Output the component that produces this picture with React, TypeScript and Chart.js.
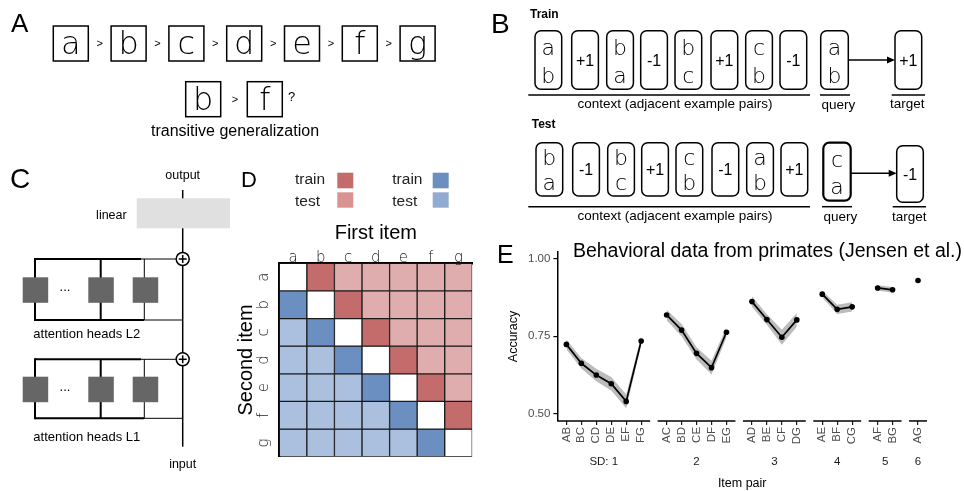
import React, { useEffect, useRef } from 'react';
import { Chart, registerables } from 'chart.js';
Chart.register(...registerables);

// ---------- Panel E data (behavioral data from primates) ----------
const pairs = ['AB', 'BC', 'CD', 'DE', 'EF', 'FG', 'AC', 'BD', 'CE', 'DF', 'EG', 'AD', 'BE', 'CF', 'DG', 'AE', 'BF', 'CG', 'AF', 'BG', 'AG'];
const pairDistance = [1, 1, 1, 1, 1, 1, 2, 2, 2, 2, 2, 3, 3, 3, 3, 4, 4, 4, 5, 5, 6];
const accuracy = [0.724, 0.663, 0.625, 0.597, 0.540, 0.735, 0.819, 0.770, 0.695, 0.649, 0.763, 0.862, 0.804, 0.747, 0.803, 0.886, 0.837, 0.845, 0.906, 0.900, 0.930];
const ciLower = [0.708, 0.646, 0.605, 0.575, 0.518, 0.720, 0.802, 0.750, 0.675, 0.627, 0.746, 0.845, 0.787, 0.723, 0.781, 0.875, 0.822, 0.830, 0.897, 0.891, 0.930];
const ciUpper = [0.740, 0.680, 0.645, 0.619, 0.562, 0.750, 0.836, 0.790, 0.715, 0.671, 0.780, 0.879, 0.821, 0.771, 0.825, 0.897, 0.852, 0.860, 0.915, 0.909, 0.930];
const distanceLabels = ['SD: 1', '2', '3', '4', '5', '6'];
const accuracyTicks = [0.5, 0.75, 1.0];
const titleE = 'Behavioral data from primates (Jensen et al.)';

// ---------- Panel D data (train/test matrix) ----------
const items = ['a', 'b', 'c', 'd', 'e', 'f', 'g'];
// W = diagonal, R = train (first>second), r = test, B = train (reverse), b = test (reverse)
const cellRows = [
  'WRrrrrr',
  'BWRrrrr',
  'bBWRrrr',
  'bbBWRrr',
  'bbbBWRr',
  'bbbbBWR',
  'bbbbbBW',
];

// ---------- Panel A / B content ----------
const sequence = ['a', 'b', 'c', 'd', 'e', 'f', 'g'];
const trainContext = [['a', 'b'], ['+1'], ['b', 'a'], ['-1'], ['b', 'c'], ['+1'], ['c', 'b'], ['-1']];
const testContext = [['b', 'a'], ['-1'], ['b', 'c'], ['+1'], ['c', 'b'], ['-1'], ['a', 'b'], ['+1']];

const SANS = "'Liberation Sans', Arial, Helvetica, sans-serif";
const HAND = "'DejaVu Sans ExtraLight', 'DejaVu Sans', 'Noto Sans', sans-serif";

const colors = {
  trainRed: '#c46b6b',
  testRedLegend: '#d99393',
  testRedCell: '#e0adaf',
  trainBlue: '#6b8fc0',
  testBlueLegend: '#92abd0',
  testBlueCell: '#aac0de',
};
const cellColor: Record<string, string> = {
  W: '#ffffff',
  R: colors.trainRed,
  r: colors.testRedCell,
  B: colors.trainBlue,
  b: colors.testBlueCell,
};

// facet layout in x units (ggplot-like discrete expansion)
const EXPAND = 0.6;
const GAP = 0.5;
function buildFacets() {
  const groups: { label: string; idx: number[]; start: number; end: number; pos: number[] }[] = [];
  let start = 0;
  distanceLabels.forEach((lab, gi) => {
    const idx = pairDistance.map((d, i) => (d === gi + 1 ? i : -1)).filter((i) => i >= 0);
    const n = idx.length;
    const end = start + (n - 1) + 2 * EXPAND;
    groups.push({ label: lab, idx, start, end, pos: idx.map((_, k) => start + EXPAND + k) });
    start = end + GAP;
  });
  return { groups, max: start - GAP };
}

function PanelE() {
  const ref = useRef<HTMLCanvasElement>(null);
  useEffect(() => {
    const { groups, max } = buildFacets();
    const xPos: number[] = [];
    const xLab: string[] = [];
    groups.forEach((g) => g.idx.forEach((i, k) => { xPos.push(g.pos[k]); xLab.push(pairs[i]); }));
    const datasets: any[] = [];
    groups.forEach((g) => {
      if (g.idx.length > 1) {
        const lowerIndex = datasets.length;
        datasets.push({
          data: g.idx.map((i, k) => ({ x: g.pos[k], y: ciLower[i] })),
          borderWidth: 0, pointRadius: 0, fill: false, order: 3,
        });
        datasets.push({
          data: g.idx.map((i, k) => ({ x: g.pos[k], y: ciUpper[i] })),
          borderWidth: 0, pointRadius: 0, fill: lowerIndex, backgroundColor: 'rgb(188,188,188)', order: 2,
        });
      }
      datasets.push({
        data: g.idx.map((i, k) => ({ x: g.pos[k], y: accuracy[i] })),
        borderColor: '#000', borderWidth: 1.7, pointRadius: 2.8, pointBackgroundColor: '#000',
        pointBorderWidth: 0, fill: false, order: 1, tension: 0,
      });
    });
    const facetPlugin = {
      id: 'facetAxis',
      afterDraw(chart: any) {
        const { ctx, chartArea } = chart;
        const x = chart.scales.x;
        ctx.save();
        ctx.strokeStyle = '#000';
        ctx.lineWidth = 1.5;
        groups.forEach((g) => {
          ctx.beginPath();
          ctx.moveTo(x.getPixelForValue(g.start), chartArea.bottom);
          ctx.lineTo(x.getPixelForValue(g.end), chartArea.bottom);
          ctx.stroke();
        });
        ctx.font = `19.5px ${SANS}`;
        ctx.fillStyle = '#000';
        ctx.textAlign = 'right';
        ctx.textBaseline = 'alphabetic';
        ctx.fillText(titleE, chart.width - 2, 28.5);
        ctx.restore();
      },
    };
    const chart = new Chart(ref.current as HTMLCanvasElement, {
      type: 'line',
      data: { datasets },
      options: {
        animation: false,
        responsive: false,
        events: [],
        layout: { padding: { left: 4, right: 37, top: 24, bottom: 0 } },
        plugins: { legend: { display: false }, tooltip: { enabled: false }, title: { display: false } },
        scales: {
          x: {
            type: 'linear', position: 'bottom', min: 0, max, weight: 0,
            afterBuildTicks: (axis: any) => { axis.ticks = xPos.map((v) => ({ value: v })); },
            ticks: {
              autoSkip: false, minRotation: 90, maxRotation: 90, color: '#4d4d4d', padding: 2,
              font: { size: 11.5, family: SANS },
              callback: (_v: any, i: number) => xLab[i],
            },
            grid: { drawOnChartArea: false, drawTicks: true, tickLength: 4, color: '#1a1a1a', lineWidth: 1.2 },
            border: { display: false },
          },
          x2: {
            type: 'linear', position: 'bottom', min: 0, max, weight: 1,
            afterBuildTicks: (axis: any) => { axis.ticks = groups.map((g) => ({ value: (g.start + g.end) / 2 })); },
            ticks: {
              autoSkip: false, minRotation: 0, maxRotation: 0, color: '#1a1a1a', padding: 0.5,
              font: { size: 11.5, family: SANS },
              callback: (_v: any, i: number) => groups[i].label,
            },
            grid: { display: false },
            border: { display: false },
            title: { display: true, text: 'Item pair', color: '#000', font: { size: 12.5, family: SANS }, padding: { top: 7, bottom: 0 } },
          },
          y: {
            type: 'linear', min: 0.477, max: 1.022,
            afterBuildTicks: (axis: any) => { axis.ticks = accuracyTicks.map((v) => ({ value: v })); },
            ticks: { color: '#4d4d4d', padding: 3, font: { size: 11.5, family: SANS }, callback: (v: any) => Number(v).toFixed(2) },
            grid: { drawOnChartArea: false, tickLength: 4, color: '#000', lineWidth: 1.2 },
            border: { display: true, color: '#000', width: 1.5 },
            title: { display: true, text: 'Accuracy', color: '#000', font: { size: 12.5, family: SANS }, padding: { top: 2, bottom: 4 } },
          },
        },
      },
      plugins: [facetPlugin],
    } as any);
    return () => chart.destroy();
  }, []);
  return <canvas ref={ref} width={464} height={263} style={{ position: 'absolute', left: 500, top: 228, width: 464, height: 263 }} />;
}

function PanelD() {
  const ref = useRef<HTMLCanvasElement>(null);
  useEffect(() => {
    const labelPlugin = {
      id: 'matrixLabels',
      afterDraw(chart: any) {
        const { ctx, chartArea } = chart;
        const y = chart.scales.y;
        const x = chart.scales.x;
        ctx.save();
        ctx.font = `200 15px ${HAND}`;
        ctx.fillStyle = '#222';
        ctx.textAlign = 'center';
        ctx.textBaseline = 'middle';
        items.forEach((it, r) => {
          ctx.save();
          ctx.translate(chartArea.left - 15, y.getPixelForValue(r + 0.5));
          ctx.rotate(-Math.PI / 2);
          ctx.fillText(it, 0, 0);
          ctx.restore();
        });
        items.forEach((it, c) => {
          ctx.fillText(it, x.getPixelForValue(c), chartArea.top - 5.5);
        });
        ctx.restore();
      },
    };
    const chart = new Chart(ref.current as HTMLCanvasElement, {
      type: 'bar',
      data: {
        labels: items,
        datasets: cellRows.map((row, r) => ({
          label: items[r],
          data: items.map(() => 1),
          backgroundColor: row.split('').map((c) => cellColor[c]),
          borderColor: '#1a1a1a',
          borderWidth: 1,
          borderSkipped: false,
          barPercentage: 1,
          categoryPercentage: 1,
        })),
      },
      options: {
        animation: false,
        responsive: false,
        events: [],
        layout: { padding: { left: 0, top: 0, right: 9.7, bottom: 8.3 } },
        plugins: { legend: { display: false }, tooltip: { enabled: false } },
        scales: {
          x: {
            type: 'category', position: 'top', stacked: true,
            grid: { display: false },
            border: { display: true, color: '#000', width: 2.5 },
            ticks: { display: false },
            title: { display: true, text: 'First item', color: '#000', font: { size: 20, family: SANS }, padding: { top: 6, bottom: 0 } },
            afterFit: (s: any) => { s.height = 48.3; },
          },
          y: {
            type: 'linear', min: 0, max: 7, reverse: true, stacked: true,
            grid: { display: false },
            border: { display: true, color: '#000', width: 2.5 },
            ticks: { display: false },
            title: { display: true, text: 'Second item', color: '#000', font: { size: 20, family: SANS }, padding: { top: 2, bottom: 0 } },
            afterFit: (s: any) => { s.width = 47.3; },
          },
        },
      },
      plugins: [labelPlugin],
    } as any);
    return () => chart.destroy();
  }, []);
  return <canvas ref={ref} width={250} height={250} style={{ position: 'absolute', left: 232, top: 215, width: 250, height: 250 }} />;
}

function Card({ x, y, w, h, lines, sw = 1.5 }: { x: number; y: number; w: number; h: number; lines: string[]; sw?: number }) {
  return (
    <g>
      <rect x={x} y={y} width={w} height={h} rx={6} ry={6} fill="#fff" stroke="#000" strokeWidth={sw} />
      {lines.length === 2 ? (
        <>
          <text x={x + w / 2} y={y + h * 0.415} fontSize={22} fontFamily={HAND} fontWeight={200} textAnchor="middle" fill="#000">{lines[0]}</text>
          <text x={x + w / 2} y={y + h * 0.89} fontSize={22} fontFamily={HAND} fontWeight={200} textAnchor="middle" fill="#000">{lines[1]}</text>
        </>
      ) : (
        <text x={x + w / 2} y={y + h / 2 + 6} fontSize={16} fontFamily={SANS} textAnchor="middle">{lines[0]}</text>
      )}
    </g>
  );
}

const cardX = [535, 571.7, 606.7, 640.7, 675, 711, 745.7, 780];

function Layer({ topY, botY, sqY, label, labelY }: { topY: number; botY: number; sqY: number; label: string; labelY: number }) {
  return (
    <g>
      <line x1={35} y1={topY} x2={141} y2={topY} stroke="#000" strokeWidth={2} />
      <line x1={141} y1={topY} x2={176} y2={topY} stroke="#000" strokeWidth={1} />
      <line x1={35} y1={botY} x2={144} y2={botY} stroke="#000" strokeWidth={2} />
      <line x1={144} y1={botY} x2={182.7} y2={botY} stroke="#000" strokeWidth={1} />
      <line x1={35} y1={topY - 1} x2={35} y2={botY + 1} stroke="#000" strokeWidth={2} />
      <line x1={100.7} y1={topY} x2={100.7} y2={botY} stroke="#000" strokeWidth={2} />
      <line x1={144.3} y1={topY} x2={144.3} y2={botY} stroke="#000" strokeWidth={1} />
      {[22.7, 88.3, 132.7].map((sx) => (
        <rect key={sx} x={sx} y={sqY} width={25.5} height={25.5} fill="#666" />
      ))}
      <text x={65} y={sqY + 14} fontSize={13} fontFamily={SANS} textAnchor="middle">...</text>
      <circle cx={182.7} cy={topY} r={6.5} fill="#fff" stroke="#000" strokeWidth={1.5} />
      <line x1={178.7} y1={topY} x2={186.7} y2={topY} stroke="#000" strokeWidth={1.5} />
      <line x1={182.7} y1={topY - 4} x2={182.7} y2={topY + 4} stroke="#000" strokeWidth={1.5} />
      <text x={33.3} y={labelY} fontSize={13} fontFamily={SANS}>{label}</text>
    </g>
  );
}

function Diagrams() {
  return (
    <svg width={964} height={491} style={{ position: 'absolute', left: 0, top: 0, pointerEvents: 'none' }}>
      {/* panel letters */}
      <text x={11} y={32} fontSize={26} fontFamily={SANS}>A</text>
      <text x={491} y={33} fontSize={28} fontFamily={SANS}>B</text>
      <text x={10} y={188} fontSize={28} fontFamily={SANS}>C</text>
      <text x={241} y={187} fontSize={22} fontFamily={SANS}>D</text>
      <text x={497} y={263.3} fontSize={25} fontFamily={SANS}>E</text>

      {/* Panel A */}
      {sequence.map((s, i) => {
        const bx = 53.3 + i * 57.8;
        return (
          <g key={s}>
            <rect x={bx} y={26} width={35} height={35} fill="#fff" stroke="#000" strokeWidth={1.5} />
            <text x={bx + 17.5} y={54} fontSize={32} fontFamily={HAND} fontWeight={200} textAnchor="middle" fill="#000">{s}</text>
            {i < sequence.length - 1 && (
              <text x={bx + 46.4} y={47} fontSize={11} fontFamily={SANS} textAnchor="middle">&gt;</text>
            )}
          </g>
        );
      })}
      <rect x={185.7} y={81.7} width={35} height={35} fill="#fff" stroke="#000" strokeWidth={1.5} />
      <text x={203.2} y={109.7} fontSize={32} fontFamily={HAND} fontWeight={200} textAnchor="middle" fill="#000">b</text>
      <text x={235} y={103} fontSize={11} fontFamily={SANS} textAnchor="middle">&gt;</text>
      <rect x={247.3} y={81.7} width={35} height={35} fill="#fff" stroke="#000" strokeWidth={1.5} />
      <text x={264.8} y={109.7} fontSize={32} fontFamily={HAND} fontWeight={200} textAnchor="middle" fill="#000">f</text>
      <text x={288} y={101} fontSize={13} fontFamily={SANS}>?</text>
      <text x={235} y={136} fontSize={16} fontFamily={SANS} textAnchor="middle">transitive generalization</text>

      {/* Panel B */}
      <text x={530} y={18} fontSize={12} fontWeight="bold" fontFamily={SANS}>Train</text>
      {trainContext.map((c, i) => (
        <Card key={'tr' + i} x={cardX[i]} y={30.7} w={26.7} h={58.6} lines={c} />
      ))}
      <Card x={820.7} y={30.7} w={27.6} h={58.6} lines={['a', 'b']} />
      <Card x={895} y={30.7} w={26.7} h={58.6} lines={['+1']} />
      <line x1={848.3} y1={60} x2={889} y2={60} stroke="#000" strokeWidth={1.5} />
      <polygon points="895,60 887,56.5 887,63.5" fill="#000" />
      <line x1={528.3} y1={95} x2={810} y2={95} stroke="#000" strokeWidth={1.5} />
      <line x1={820} y1={95} x2={850} y2={95} stroke="#000" strokeWidth={1.5} />
      <line x1={891.7} y1={95} x2={925} y2={95} stroke="#000" strokeWidth={1.5} />
      <text x={675} y={108} fontSize={13.5} fontFamily={SANS} textAnchor="middle">context (adjacent example pairs)</text>
      <text x={838.3} y={108.5} fontSize={13.5} fontFamily={SANS} textAnchor="middle">query</text>
      <text x={907.3} y={108} fontSize={13.5} fontFamily={SANS} textAnchor="middle">target</text>

      <text x={531.7} y={128.3} fontSize={12} fontWeight="bold" fontFamily={SANS}>Test</text>
      {testContext.map((c, i) => (
        <Card key={'te' + i} x={cardX[i] + 1} y={142.7} w={26.7} h={53.3} lines={c} />
      ))}
      <Card x={823.3} y={142.7} w={27.4} h={58} lines={['c', 'a']} sw={2.2} />
      <Card x={896.7} y={145.7} w={26.6} h={56.6} lines={['-1']} />
      <line x1={850.7} y1={173.3} x2={890.7} y2={173.3} stroke="#000" strokeWidth={1.5} />
      <polygon points="896.7,173.3 888.7,169.8 888.7,176.8" fill="#000" />
      <line x1={528.3} y1={206.7} x2={810} y2={206.7} stroke="#000" strokeWidth={1.5} />
      <line x1={822} y1={206.7} x2={852} y2={206.7} stroke="#000" strokeWidth={1.5} />
      <line x1={892.7} y1={206.7} x2={926} y2={206.7} stroke="#000" strokeWidth={1.5} />
      <text x={675} y={220} fontSize={13.5} fontFamily={SANS} textAnchor="middle">context (adjacent example pairs)</text>
      <text x={840.3} y={220.5} fontSize={13.5} fontFamily={SANS} textAnchor="middle">query</text>
      <text x={909.3} y={220.5} fontSize={13.5} fontFamily={SANS} textAnchor="middle">target</text>

      {/* Panel C */}
      <line x1={182.7} y1={190} x2={182.7} y2={446.7} stroke="#000" strokeWidth={1.5} />
      <rect x={136.7} y={198.3} width={93.3} height={30} fill="#e0e0e0" />
      <text x={126.7} y={219} fontSize={12.5} fontFamily={SANS} textAnchor="end">linear</text>
      <text x={182.7} y={179} fontSize={12.5} fontFamily={SANS} textAnchor="middle">output</text>
      <text x={182.7} y={467.5} fontSize={12.5} fontFamily={SANS} textAnchor="middle">input</text>
      <Layer topY={259} botY={320} sqY={277.3} label="attention heads L2" labelY={338} />
      <Layer topY={359.3} botY={418.3} sqY={376.7} label="attention heads L1" labelY={441} />

      {/* Panel D legend */}
      <text x={295} y={183.5} fontSize={15.5} fontFamily={SANS} fill="#222">train</text>
      <rect x={337.3} y={172.7} width={16} height={15.6} fill={colors.trainRed} />
      <text x={295} y={205.5} fontSize={15.5} fontFamily={SANS} fill="#222">test</text>
      <rect x={337.3} y={192.3} width={16} height={15.4} fill={colors.testRedLegend} />
      <text x={392.3} y={183.5} fontSize={15.5} fontFamily={SANS} fill="#222">train</text>
      <rect x={432.7} y={172.7} width={16} height={15.6} fill={colors.trainBlue} />
      <text x={392.3} y={205.5} fontSize={15.5} fontFamily={SANS} fill="#222">test</text>
      <rect x={432.7} y={192.3} width={16} height={15.4} fill={colors.testBlueLegend} />
    </svg>
  );
}

export default function App() {
  return (
    <div style={{ position: 'absolute', left: 0, top: 0, width: 964, height: 491, background: '#fff', overflow: 'hidden' }}>
      <PanelD />
      <PanelE />
      <Diagrams />
    </div>
  );
}
